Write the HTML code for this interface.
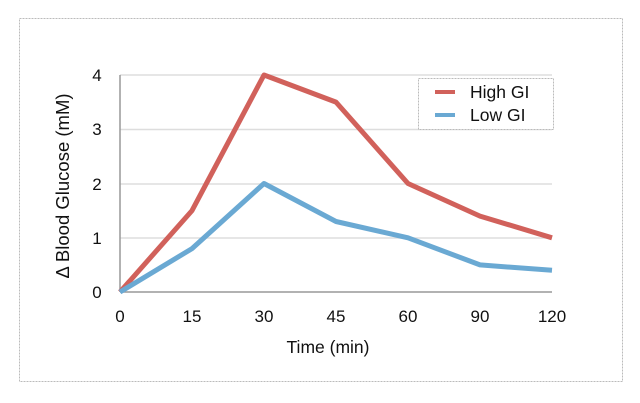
<!DOCTYPE html>
<html><head><style>body{margin:0;background:#fff}svg{display:block}</style></head><body>
<svg width="640" height="403" xmlns="http://www.w3.org/2000/svg" font-family="Liberation Sans, sans-serif">
<rect x="19.5" y="18.5" width="603" height="363" fill="#fff" stroke="#bbb" stroke-dasharray="2,1"/>
<g stroke="#ddd" stroke-width="1.5">
<line x1="120" y1="75" x2="552" y2="75"/><line x1="120" y1="129.5" x2="552" y2="129.5"/>
<line x1="120" y1="184" x2="552" y2="184"/><line x1="120" y1="238" x2="552" y2="238"/>
</g>
<line x1="120" y1="292" x2="552" y2="292" stroke="#999" stroke-width="1.5"/>
<line x1="120" y1="75" x2="120" y2="292" stroke="#999" stroke-width="1.5"/>
<g font-size="17" fill="#111" text-anchor="middle">
<text x="97" y="298">0</text><text x="97" y="244">1</text><text x="97" y="190">2</text><text x="97" y="135">3</text><text x="97" y="81">4</text>
<text x="120" y="322">0</text><text x="192" y="322">15</text><text x="264" y="322">30</text><text x="336" y="322">45</text><text x="408" y="322">60</text><text x="480" y="322">90</text><text x="552" y="322">120</text>
<text x="328" y="353" font-size="17.5">Time (min)</text>
<text transform="translate(69,186) rotate(-90)" font-size="18.5">Δ Blood Glucose (mM)</text>
</g>
<polyline fill="none" stroke="#d1615b" stroke-width="5" stroke-linejoin="round" points="120,292 192,210.6 264,75 336,102.1 408,183.5 480,216.1 552,237.8"/>
<polyline fill="none" stroke="#6aa9d3" stroke-width="5" stroke-linejoin="round" points="120,292 192,248.6 264,183.5 336,221.5 408,237.8 480,264.9 552,270.3"/>
<rect x="418.5" y="78.5" width="135" height="51" fill="#fff" stroke="#bbb" stroke-dasharray="2,1"/>
<line x1="435" y1="92" x2="455" y2="92" stroke="#d1615b" stroke-width="4"/>
<line x1="435" y1="115" x2="455" y2="115" stroke="#6aa9d3" stroke-width="4"/>
<g font-size="17.5" fill="#111"><text x="470" y="98">High GI</text><text x="470" y="121">Low GI</text></g>
</svg>
</body></html>
